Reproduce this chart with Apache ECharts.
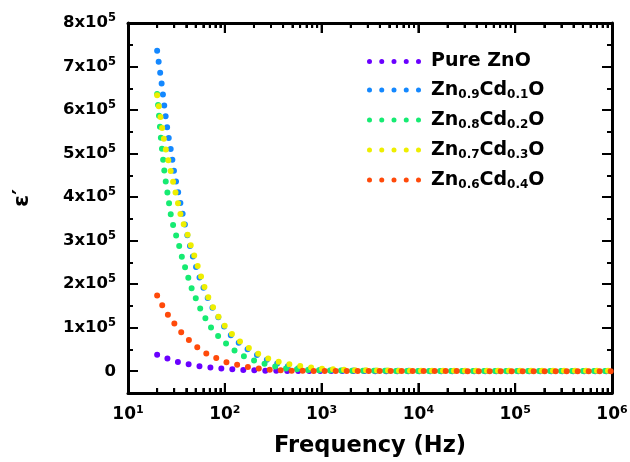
<!DOCTYPE html>
<html><head><meta charset="utf-8">
<script src="https://cdn.jsdelivr.net/npm/echarts@6/dist/echarts.min.js"></script>
<style>html,body{margin:0;padding:0;background:#fff}#c{width:630px;height:462px}</style>
</head><body><div id="c"></div>
<script>
// ---- data ----
const frequencies = [20,22,24,26,28,30,33,36,40,45,50,56,63,70,80,90,100,120,140,170,200,250,300,400,500,700,1000,2000,5000,10000,100000,1000000];
const pureZnO = [38000,34000,31000,28500,26000,24000,21300,19500,17000,14500,13000,11300,10000,9000,7500,6200,5500,4400,3700,2600,2000,1400,1100,800,700,500,400,300,200,200,100,100];
const zn09cd01 = [736000,670000,600000,543000,503000,457000,411000,370000,322000,276000,242000,209000,181000,157000,133000,118000,100000,78000,65000,51000,41000,30000,22000,14000,9000,5000,3000,1500,1000,800,500,300];
const zn08cd02 = [637000,529000,450000,399000,353000,326000,297000,263000,230000,193000,168000,143000,122000,104000,87000,76000,66000,51000,40000,31000,25000,18000,13000,7000,5000,3000,2000,1200,800,600,400,300];
const zn07cd03 = [634000,574000,520000,486000,454000,424000,384000,347000,324000,286000,256000,222000,187000,161000,137000,118000,104000,84000,70000,56000,45000,34000,27000,19000,14500,10000,6000,2500,1500,1200,1000,1000];
const zn06cd04 = [174000,156000,141000,129000,119000,110000,98000,88000,77000,67000,58000,50000,42000,37000,31000,26000,22000,17000,14000,10000,8000,5000,3000,1800,1200,800,600,500,400,300,200,200];
const seriesNames = ['Pure ZnO','Zn0.9Cd0.1O','Zn0.8Cd0.2O','Zn0.7Cd0.3O','Zn0.6Cd0.4O'];
const seriesValues = [pureZnO, zn09cd01, zn08cd02, zn07cd03, zn06cd04];
const seriesColors = ['#6a00ff','#1488ff','#16eb72','#eeee00','#ff4a0a'];
const xMajorTicks = [10,100,1000,10000,100000,1000000];
const xMinorTicks = [20,30,40,50,60,70,80,90,200,300,400,500,600,700,800,900,2000,3000,4000,5000,6000,7000,8000,9000,20000,30000,40000,50000,60000,70000,80000,90000,200000,300000,400000,500000,600000,700000,800000,900000];
const yMajorTicks = [0,100000,200000,300000,400000,500000,600000,700000,800000];
const yMinorTicks = [-50000,50000,150000,250000,350000,450000,550000,650000,750000];
const xTitle = 'Frequency (Hz)';
const yTitle = 'ε′';

// ---- chart ----
const FONT = 'DejaVu Sans';
const chart = echarts.init(document.getElementById('c'), null, {renderer:'canvas'});
const AX = '#000';
const SOLID = [1000, 0];
const Y_MIN = -50000, Y_MAX = 800000;
function xAxisDef(pos, minor, labels) {
  const a = {
    type:'log', logBase:10, min:10, max:1000000, position:pos,
    axisLine:{show:!minor, onZero:false, lineStyle:{color:AX, width:3}},
    axisTick:{show:true, inside:true, length: minor?5:10, lineStyle:{color:AX, width:2, type:SOLID, cap:'butt'}},
    axisLabel:{show:labels, margin:12, color:AX,
      formatter: v => '{b|10}{sup|' + Math.round(Math.log10(v)) + '}',
      rich:{b:{fontFamily:FONT, fontWeight:'bold', fontSize:17, lineHeight:20, color:AX},
            sup:{fontFamily:FONT, fontWeight:'bold', fontSize:11, lineHeight:11, verticalAlign:'top', color:AX}}},
    splitLine:{show:false}, minorTick:{show:false},
    name: labels ? xTitle : '', nameLocation:'middle', nameGap:42,
    nameTextStyle:{fontFamily:FONT, fontWeight:'bold', fontSize:22.5, color:AX}
  };
  if (minor) a.axisTick.customValues = xMinorTicks;
  return a;
}
function yAxisDef(pos, minor, labels) {
  return {
    type:'value', min:Y_MIN, max:Y_MAX, position:pos,
    axisLine:{show:!minor, onZero:false, lineStyle:{color:AX, width:3}},
    axisTick:{show:true, inside:true, length: minor?5:10, lineStyle:{color:AX, width:2},
      customValues: minor ? yMinorTicks : yMajorTicks},
    axisLabel:{show:labels, margin:12, color:AX, customValues: yMajorTicks,
      formatter: v => v === 0 ? '{b|0}' : '{b|' + Math.round(v/100000) + 'x10}{sup|5}',
      rich:{b:{fontFamily:FONT, fontWeight:'bold', fontSize:16.5, lineHeight:22, color:AX},
            sup:{fontFamily:FONT, fontWeight:'bold', fontSize:11.5, lineHeight:11, verticalAlign:'top', color:AX}}},
    splitLine:{show:false},
    name: labels ? yTitle : '', nameLocation:'middle', nameGap:95, nameRotate:90,
    nameTextStyle:{fontFamily:FONT, fontWeight:'bold', fontSize:22, color:AX, padding:[0,0,0,20]}
  };
}
// frequency-axis tick marks on bottom and top frame edges, placed through the axis scale
const tickData = xMajorTicks.map(f => [f, 10]).concat(xMinorTicks.map(f => [f, 5]));
function renderTick(params, api) {
  const f = api.value(0), len = api.value(1);
  const pb = api.coord([f, Y_MIN]);
  const pt = api.coord([f, Y_MAX]);
  const st = {stroke:AX, lineWidth:2, lineDash:SOLID, lineCap:'butt'};
  return {type:'group', children:[
    {type:'line', shape:{x1:pb[0], y1:pb[1], x2:pb[0], y2:pb[1]-len}, style:st},
    {type:'line', shape:{x1:pt[0], y1:pt[1], x2:pt[0], y2:pt[1]+len}, style:st}
  ]};
}
const dots = [2.5,14.75,27,39.25,51.5].map(c => 'M' + (c-2.5) + ' 2.5a2.5 2.5 0 1 0 5 0a2.5 2.5 0 1 0 -5 0Z').join('');
const option = {
  animation:false,
  backgroundColor:'#fff',
  textStyle:{fontFamily:FONT},
  grid:{left:128, right:18, top:23, bottom:69, containLabel:false, outerBoundsMode:'none'},
  xAxis:[xAxisDef('bottom',false,true), xAxisDef('bottom',true,false), xAxisDef('top',false,false), xAxisDef('top',true,false)],
  yAxis:[yAxisDef('left',false,true), yAxisDef('left',true,false), yAxisDef('right',false,false), yAxisDef('right',true,false)],
  legend:{
    orient:'vertical', left:367, top:52, padding:0, itemGap:2,
    itemWidth:54, itemHeight:5, icon:'path://' + dots, symbolKeepAspect:true,
    itemStyle:{borderWidth:0},
    data: seriesNames,
    formatter: n => '{sp| }{m|' + n.replace(/(\d\.\d)/g, '}{s|$1}{m|') + '}',
    textStyle:{color:AX, fontFamily:FONT, fontWeight:'bold', fontSize:19,
      rich:{sp:{width:5, fontSize:10},
            m:{fontFamily:FONT, fontWeight:'bold', fontSize:19, lineHeight:22, color:AX},
            s:{fontFamily:FONT, fontWeight:'bold', fontSize:12, lineHeight:12, padding:[16,0,0,0], verticalAlign:'bottom', color:AX}}}
  },
  series: seriesNames.map((n,i) => ({
    name:n, type:'line', xAxisIndex:0, yAxisIndex:0,
    data: frequencies.map((f,j) => [f, seriesValues[i][j]]),
    symbol:'none', showSymbol:false, color:seriesColors[i],
    lineStyle:{color:seriesColors[i], width:6, type:[0,11], cap:'round'},
    emphasis:{disabled:true}, silent:true
  })).concat([{
    name:'ticks', type:'custom', xAxisIndex:0, yAxisIndex:0, data:tickData,
    renderItem:renderTick, clip:false, silent:true, z:5
  }])
};
chart.setOption(option);
</script></body></html>
